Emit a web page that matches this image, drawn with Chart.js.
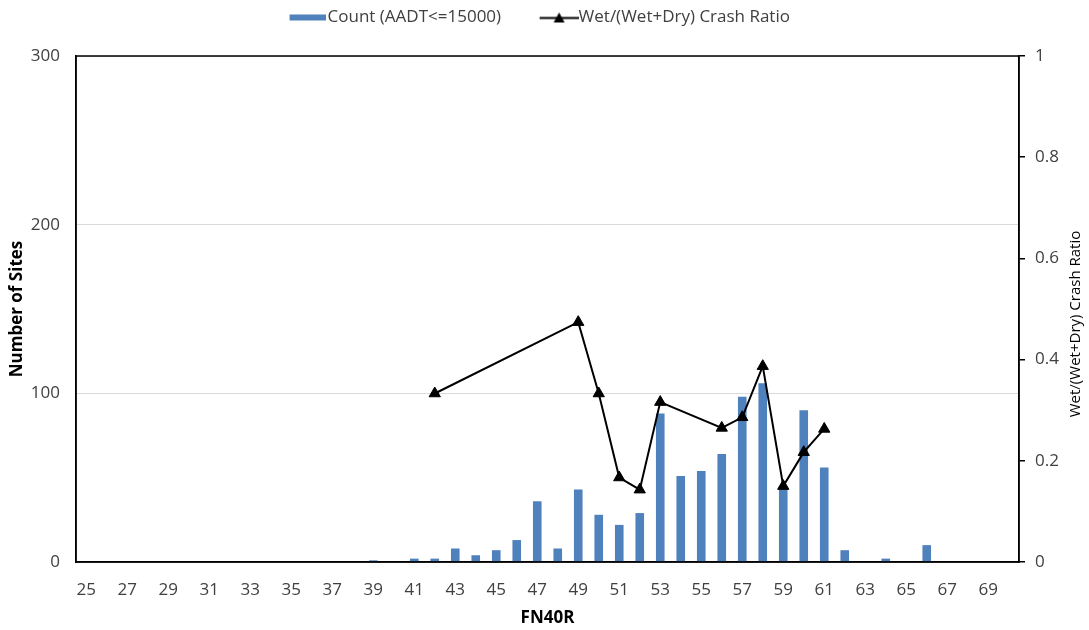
<!DOCTYPE html>
<html>
<head>
<meta charset="utf-8">
<script src="https://cdn.jsdelivr.net/npm/chart.js@4.4.1/dist/chart.umd.min.js"></script>
<style>
  body { margin: 0; background: #fff; }
  #chart { display: block; }
</style>
</head>
<body>
<canvas id="chart" width="1089" height="630"></canvas>
<script>
// FN40R categories
const fn40r = [25, 26, 27, 28, 29, 30, 31, 32, 33, 34, 35, 36, 37, 38, 39, 40, 41, 42, 43, 44, 45, 46, 47,
  48, 49, 50, 51, 52, 53, 54, 55, 56, 57, 58, 59, 60, 61, 62, 63, 64, 65, 66, 67, 68, 69, 70];

// Count (AADT<=15000)
const siteCounts = [0, 0, 0, 0, 0, 0, 0, 0, 0, 0, 0, 0, 0, 0, 1, 0, 2, 2, 8, 4, 7, 13, 36,
  8, 43, 28, 22, 29, 88, 51, 54, 64, 98, 106, 45, 90, 56, 7, 0, 2, 0, 10, 0, 0, 0, 0];

// Wet/(Wet+Dry) crash ratio (null = no point)
const crashRatio = [null, null, null, null, null, null, null, null, null, null, null, null, null, null, null, null, null, 0.333, null, null, null, null, null,
  null, 0.474, 0.333, 0.167, 0.143, 0.316, null, null, 0.265, 0.286, 0.387, 0.15, 0.217, 0.263, null, null, null, null, null, null, null, null, null];

const leftTicks = [0, 100, 200, 300];
const rightTicks = [0, 0.2, 0.4, 0.6, 0.8, 1];

const BAR_COLOR = '#4F81BD';
const FONT = '"Open Sans", "Noto Sans", sans-serif';
const RIGHT_TITLE = 'Wet/(Wet+Dry) Crash Ratio';

// Iconos de la leyenda
function legendBarIcon() {
    const c = document.createElement('canvas');
    c.width = 75; c.height = 8;
    const g = c.getContext('2d');
    g.fillStyle = BAR_COLOR;
    g.fillRect(39, 1, 36, 6);
    return c;
}

function legendLineIcon() {
    const c = document.createElement('canvas');
    c.width = 79; c.height = 14;
    const g = c.getContext('2d');
    g.strokeStyle = '#000';
    g.lineWidth = 2;
    g.beginPath();
    g.moveTo(40, 7.5);
    g.lineTo(79, 7.5);
    g.stroke();
    g.fillStyle = '#000';
    g.beginPath();
    g.moveTo(59.5, 2);
    g.lineTo(65, 12);
    g.lineTo(54, 12);
    g.closePath();
    g.fill();
    return c;
}

const barIcon = legendBarIcon();
const lineIcon = legendLineIcon();

// Marco negro alrededor del área del gráfico
const frameBox = {
    id: 'frameBox',
    afterDatasetsDraw(chart) {
        const a = chart.chartArea;
        const ctx = chart.ctx;
        ctx.save();
        ctx.strokeStyle = '#000';
        ctx.lineWidth = 1.5;
        ctx.strokeRect(a.left, a.top, a.right - a.left, a.bottom - a.top);
        ctx.restore();
    }
};

// Título del eje derecho, leído de abajo hacia arriba
const rightTitle = {
    id: 'rightTitle',
    afterDraw(chart) {
        const ctx = chart.ctx;
        const s = chart.scales.y1;
        ctx.save();
        ctx.translate(s.right - 13, (chart.chartArea.top + chart.chartArea.bottom) / 2 + 15);
        ctx.rotate(-Math.PI / 2);
        ctx.font = '15px ' + FONT;
        ctx.fillStyle = '#000';
        ctx.textAlign = 'center';
        ctx.textBaseline = 'middle';
        ctx.fillText(RIGHT_TITLE, 0, 0);
        ctx.restore();
    }
};

const legendTweak = {
    id: 'legendTweak',
    beforeInit(chart) {
        const fit = chart.legend.fit;
        chart.legend.fit = function() {
            fit.bind(chart.legend)();
            this.height = 56;
        };
    },
    afterLayout(chart) {
        chart.legend.left -= 21;
        chart.legend.right -= 21;
        chart.legend.top += 2;
        chart.legend.bottom += 2;
    }
};

new Chart(document.getElementById('chart'), {
    data: {
        labels: fn40r,
        datasets: [{
            type: 'bar',
            label: 'Count (AADT<=15000)',
            data: siteCounts,
            backgroundColor: BAR_COLOR,
            barPercentage: 0.42,
            categoryPercentage: 1,
            yAxisID: 'y',
            order: 2
        }, {
            type: 'line',
            label: RIGHT_TITLE,
            data: crashRatio,
            borderColor: '#000',
            backgroundColor: '#000',
            borderWidth: 2,
            pointStyle: 'triangle',
            pointRadius: 6.5,
            pointBorderWidth: 1,
            spanGaps: true,
            tension: 0,
            yAxisID: 'y1',
            order: 1
        }]
    },
    options: {
        responsive: false,
        devicePixelRatio: 1,
        animation: false,
        layout: { padding: 0 },
        plugins: {
            tooltip: { enabled: false },
            legend: {
                position: 'top',
                labels: {
                    font: { family: FONT, size: 17 },
                    color: '#404040',
                    usePointStyle: true,
                    pointStyleWidth: 62,
                    padding: 7,
                    generateLabels: function(chart) {
                        return [{
                            text: 'Count (AADT<=15000)',
                            pointStyle: barIcon,
                            fillStyle: BAR_COLOR,
                            strokeStyle: BAR_COLOR,
                            lineWidth: 0,
                            fontColor: '#404040',
                            datasetIndex: 0
                        }, {
                            text: RIGHT_TITLE,
                            pointStyle: lineIcon,
                            fillStyle: '#000',
                            strokeStyle: '#000',
                            lineWidth: 0,
                            fontColor: '#404040',
                            datasetIndex: 1
                        }];
                    }
                }
            }
        },
        scales: {
            x: {
                grid: { display: false, drawTicks: false },
                border: { display: true, color: '#000', width: 1.5 },
                ticks: {
                    autoSkip: false,
                    maxRotation: 0,
                    padding: 18,
                    color: '#404040',
                    font: { family: FONT, size: 17 },
                    callback: function(value, index) {
                        return index % 2 === 0 ? this.getLabelForValue(value) : '';
                    }
                },
                title: {
                    display: true,
                    text: 'FN40R',
                    color: '#000',
                    font: { family: FONT, size: 17, weight: 'bold' },
                    padding: { top: 0, bottom: 2 }
                },
                afterFit: function(scale) { scale.height = 68; }
            },
            y: {
                position: 'left',
                min: 0,
                max: 300,
                afterBuildTicks: function(scale) {
                    scale.ticks = leftTicks.map(v => ({ value: v }));
                },
                grid: { color: '#d9d9d9', lineWidth: 1, drawTicks: false },
                border: { display: true, color: '#000', width: 1.5 },
                ticks: {
                    padding: 16,
                    color: '#404040',
                    font: { family: FONT, size: 17 }
                },
                title: {
                    display: true,
                    text: 'Number of Sites',
                    color: '#000',
                    font: { family: FONT, size: 17, weight: 'bold' },
                    padding: { top: 7, bottom: 0 }
                },
                afterFit: function(scale) { scale.width = 76; }
            },
            y1: {
                position: 'right',
                min: 0,
                max: 1,
                afterBuildTicks: function(scale) {
                    scale.ticks = rightTicks.map(v => ({ value: v }));
                },
                grid: { drawOnChartArea: false, drawTicks: true, tickLength: 6, color: '#000', lineWidth: 1.5 },
                border: { display: true, color: '#000', width: 1.5 },
                ticks: {
                    padding: 10,
                    color: '#404040',
                    font: { family: FONT, size: 17 },
                    callback: function(value) { return String(Math.round(value * 10) / 10); }
                },
                afterFit: function(scale) { scale.width = 70; }
            }
        }
    },
    plugins: [frameBox, rightTitle, legendTweak]
});
</script>
</body>
</html>
